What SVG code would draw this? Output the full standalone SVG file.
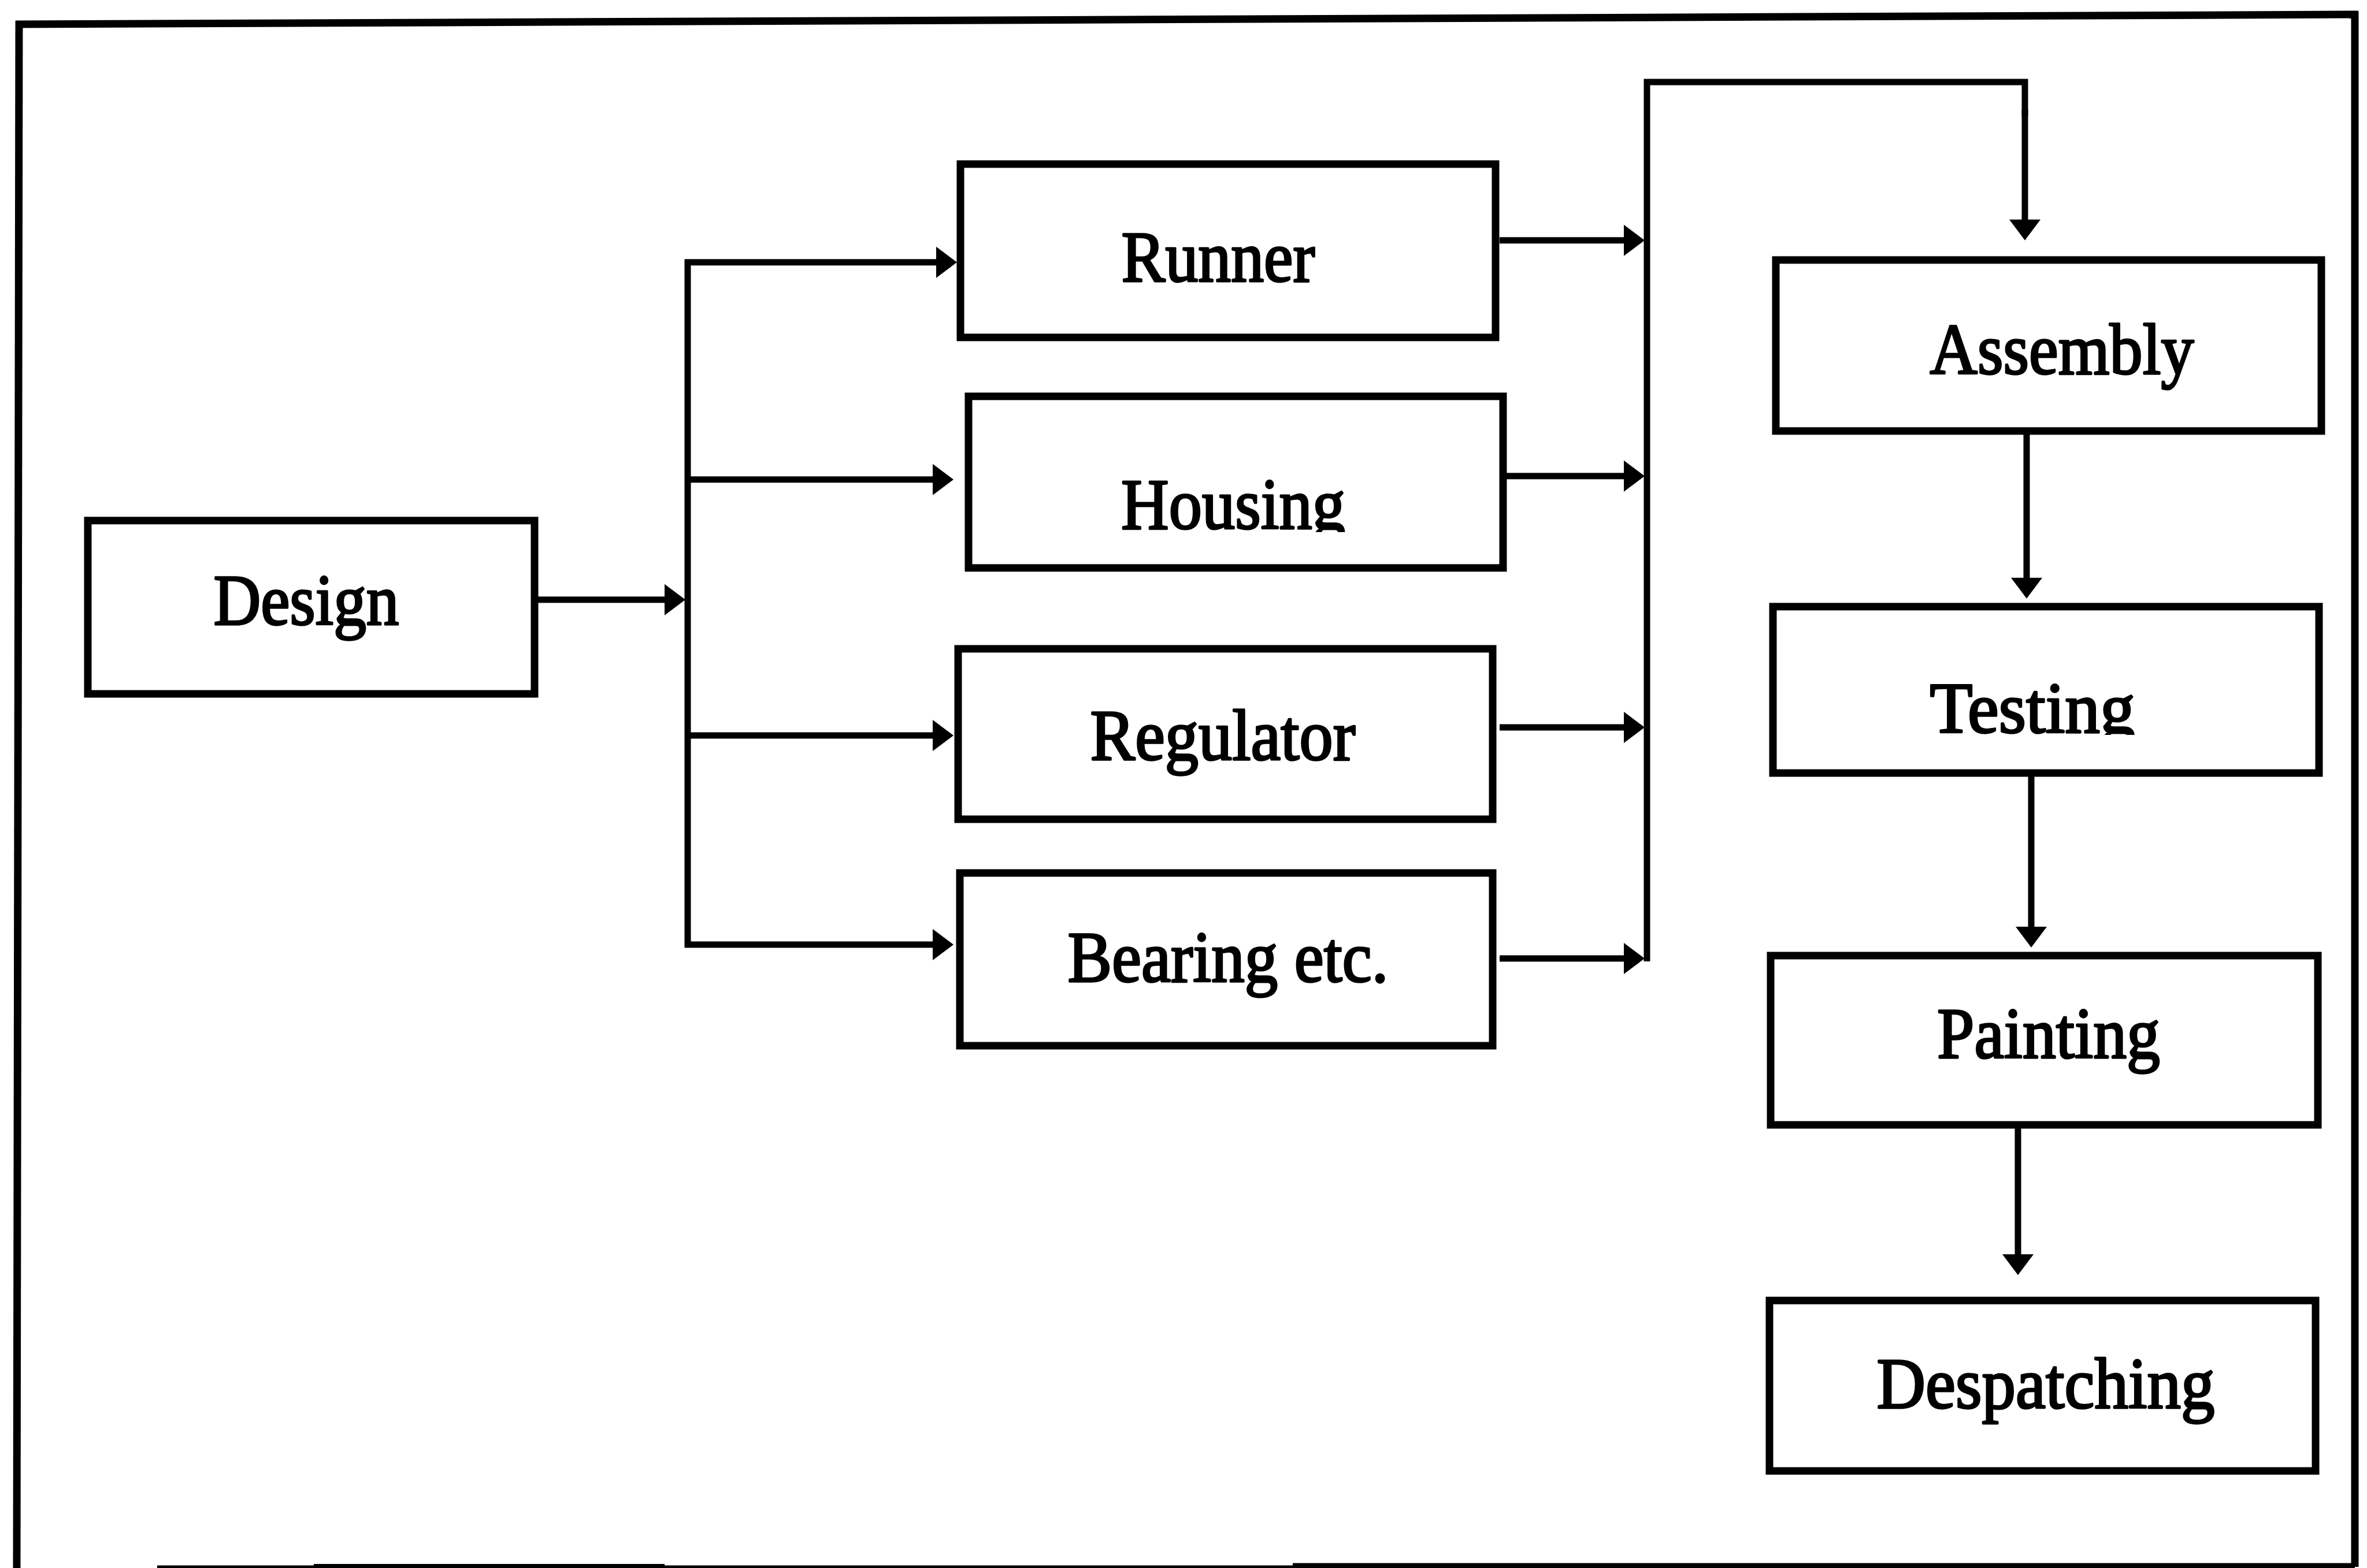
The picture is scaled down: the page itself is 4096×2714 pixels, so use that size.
<svg xmlns="http://www.w3.org/2000/svg" width="4096" height="2714" viewBox="0 0 4096 2714">
  <style>
    .box { fill: #ffffff; stroke: #000000; stroke-width: 13; }
    .lbl { font-family: "Liberation Serif", "Times New Roman", serif; font-size: 124px; fill: #000000; stroke: #000000; stroke-width: 3.5; stroke-linejoin: round; text-anchor: middle; }
    .wire { fill: none; stroke: #000000; stroke-width: 11; stroke-linejoin: miter; stroke-linecap: butt; }
    .arrow { marker-end: url(#head); }
    .frame { fill: none; stroke: #000000; stroke-width: 13; }
  </style>
  <defs>
    <marker id="head" viewBox="0 0 36 54" refX="12" refY="27" markerWidth="36" markerHeight="54" markerUnits="userSpaceOnUse" orient="auto">
      <path d="M0,0 L36,27 L0,54 Z" fill="#000000"/>
    </marker>
    <clipPath id="clipHousing" clipPathUnits="userSpaceOnUse">
      <rect x="1680" y="690" width="916" height="231"/>
    </clipPath>
    <clipPath id="clipTesting" clipPathUnits="userSpaceOnUse">
      <rect x="3072" y="1054" width="936" height="218"/>
    </clipPath>
  </defs>

  <rect x="0" y="0" width="4096" height="2714" fill="#ffffff"/>

  <!-- page border -->
  <g id="border">
    <line class="frame" x1="27" y1="42" x2="4081" y2="25"/>
    <line class="frame" x1="33" y1="36" x2="29" y2="2714"/>
    <line class="frame" x1="4075" y1="20" x2="4075" y2="2712"/>
    <line x1="272" y1="2712" x2="4075" y2="2712" stroke="#000000" stroke-width="5"/>
    <line x1="543" y1="2711" x2="1150" y2="2711" stroke="#000000" stroke-width="8"/>
    <line x1="2237" y1="2710" x2="4075" y2="2710" stroke="#000000" stroke-width="9"/>
  </g>

  <!-- connectors -->
  <g id="connectors">
    <line class="wire arrow" x1="909" y1="1038" x2="1162" y2="1038"/>
    <line class="wire" x1="1190" y1="449" x2="1190" y2="1640"/>
    <line class="wire arrow" x1="1185" y1="454" x2="1632" y2="454"/>
    <line class="wire arrow" x1="1185" y1="830" x2="1626" y2="830"/>
    <line class="wire arrow" x1="1185" y1="1273" x2="1626" y2="1273"/>
    <line class="wire arrow" x1="1185" y1="1635" x2="1626" y2="1635"/>

    <line class="wire arrow" x1="2595" y1="416" x2="2822" y2="416"/>
    <line class="wire arrow" x1="2606" y1="824" x2="2822" y2="824"/>
    <line class="wire arrow" x1="2595" y1="1259" x2="2822" y2="1259"/>
    <line class="wire arrow" x1="2595" y1="1659" x2="2822" y2="1659"/>
    <polyline class="wire" points="2850,1664 2850,142 3504,142 3504,200"/>
    <line class="wire arrow" x1="3504" y1="190" x2="3504" y2="392"/>

    <line class="wire arrow" x1="3507" y1="746" x2="3507" y2="1012"/>
    <line class="wire arrow" x1="3515" y1="1338" x2="3515" y2="1616"/>
    <line class="wire arrow" x1="3492" y1="1947" x2="3492" y2="2183"/>
  </g>

  <g id="design">
    <rect class="box" x="152" y="901" width="773" height="300"/>
    <text class="lbl" x="530" y="1081" textLength="321" lengthAdjust="spacingAndGlyphs">Design</text>
  </g>

  <g id="runner">
    <rect class="box" x="1662" y="284" width="926" height="300"/>
    <text class="lbl" x="2108" y="487" textLength="335" lengthAdjust="spacingAndGlyphs">Runner</text>
  </g>

  <g id="housing">
    <rect class="box" x="1676" y="686" width="925" height="297"/>
    <text class="lbl" x="2134" y="915" textLength="388" lengthAdjust="spacingAndGlyphs" clip-path="url(#clipHousing)">Housing</text>
  </g>

  <g id="regulator">
    <rect class="box" x="1658" y="1123" width="925" height="295"/>
    <text class="lbl" x="2116" y="1315" textLength="459" lengthAdjust="spacingAndGlyphs">Regulator</text>
  </g>

  <g id="bearing">
    <rect class="box" x="1661" y="1511" width="922" height="299"/>
    <text class="lbl" x="2125" y="1699" textLength="555" lengthAdjust="spacingAndGlyphs">Bearing etc.</text>
  </g>

  <g id="assembly">
    <rect class="box" x="3073" y="450" width="944" height="296"/>
    <text class="lbl" x="3568" y="647" textLength="457" lengthAdjust="spacingAndGlyphs">Assembly</text>
  </g>

  <g id="testing">
    <rect class="box" x="3068" y="1050" width="945" height="288"/>
    <text class="lbl" x="3517" y="1268" textLength="355" lengthAdjust="spacingAndGlyphs" clip-path="url(#clipTesting)">Testing</text>
  </g>

  <g id="painting">
    <rect class="box" x="3064" y="1654" width="947" height="293"/>
    <text class="lbl" x="3545" y="1831" textLength="386" lengthAdjust="spacingAndGlyphs">Painting</text>
  </g>

  <g id="despatching">
    <rect class="box" x="3062" y="2251" width="945" height="295"/>
    <text class="lbl" x="3540" y="2437" textLength="585" lengthAdjust="spacingAndGlyphs">Despatching</text>
  </g>
</svg>
